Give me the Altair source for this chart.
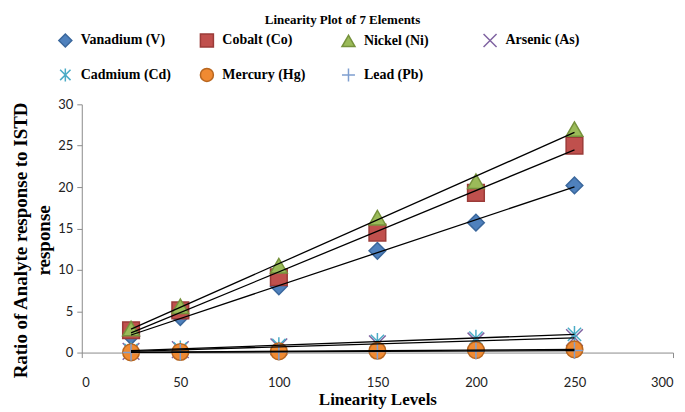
import altair as alt
import pandas as pd

levels = [25, 50, 100, 150, 200, 250]
elements = ["Vanadium (V)", "Cobalt (Co)", "Nickel (Ni)", "Arsenic (As)",
            "Cadmium (Cd)", "Mercury (Hg)", "Lead (Pb)"]

vanadium = [2.0, 4.3, 8.0, 12.3, 15.7, 20.2]
cobalt = [2.7, 5.1, 9.1, 14.5, 19.3, 25.0]
nickel = [2.9, 5.6, 10.5, 16.3, 20.7, 27.0]
arsenic = [0.15, 0.35, 0.7, 1.05, 1.4, 1.8]
cadmium = [0.25, 0.45, 0.85, 1.35, 1.75, 2.2]
mercury = [0.03, 0.07, 0.15, 0.22, 0.3, 0.38]
lead = [0.02, 0.04, 0.09, 0.14, 0.19, 0.24]

series = [vanadium, cobalt, nickel, arsenic, cadmium, mercury, lead]

fill_colors = ["#4F81BD", "#C0504D", "#9BBB59", "#8064A2", "#4BACC6", "#F08A32", "#95B3D7"]
stroke_colors = ["#3A679C", "#9B3B38", "#76923C", "#8064A2", "#4BACC6", "#B8661F", "#7F9FD0"]
shapes = ["diamond", "square", "triangle-up",
          "M-1,-1L1,1M-1,1L1,-1",
          "M0,-1L0,1M-0.8,-0.8L0.8,0.8M-0.8,0.8L0.8,-0.8",
          "circle",
          "M-1,0L1,0M0,-1L0,1"]

rows = []
for name, vals in zip(elements, series):
    for lv, v in zip(levels, vals):
        rows.append({"element": name, "level": lv, "value": v})
df = pd.DataFrame(rows)

serif = "Liberation Serif"
sans = "Lato"

leg = alt.Legend(orient="none", legendX=-24, legendY=-72, columns=4, direction="horizontal",
                 title=None, symbolSize=170, symbolStrokeWidth=1.5,
                 labelFont=serif, labelFontWeight="bold", labelFontSize=14, labelColor="black",
                 gridAlign="all", columnPadding=25, rowPadding=14, labelOffset=8, labelLimit=200)

x_enc = alt.X("level:Q", scale=alt.Scale(domain=[0, 300], nice=False),
              axis=alt.Axis(values=[0, 50, 100, 150, 200, 250, 300], title="Linearity Levels",
                            grid=False, domainColor="#8c8c8c", tickColor="#8c8c8c", tickSize=5,
                            labelFont=sans, labelFontSize=13, labelColor="#222", labelPadding=19,
                            titleFont=serif, titleFontSize=17, titleFontWeight="bold",
                            titleColor="black", titlePadding=2))
y_enc = alt.Y("value:Q", scale=alt.Scale(domain=[0, 30], nice=False),
              axis=alt.Axis(values=[0, 5, 10, 15, 20, 25, 30],
                            title=["Ratio of Analyte response  to ISTD", "response"],
                            grid=False, domainColor="#8c8c8c", tickColor="#8c8c8c", tickSize=5,
                            labelFont=sans, labelFontSize=13, labelColor="#222", labelPadding=4,
                            titleFont=serif, titleFontSize=19, titleFontWeight="bold",
                            titleColor="black", titlePadding=4, titleLineHeight=23, titleY=136))

points = alt.Chart(df).mark_point(filled=True, size=280, strokeWidth=1.5, opacity=1).encode(
    x=x_enc,
    y=y_enc,
    fill=alt.Fill("element:N", scale=alt.Scale(domain=elements, range=fill_colors), legend=leg),
    stroke=alt.Stroke("element:N", scale=alt.Scale(domain=elements, range=stroke_colors), legend=leg),
    shape=alt.Shape("element:N", scale=alt.Scale(domain=elements, range=shapes), legend=leg),
)

lines = alt.Chart(df).transform_regression(
    "level", "value", groupby=["element"]
).mark_line(color="black", strokeWidth=1.3).encode(
    x="level:Q", y="value:Q", detail="element:N"
)

chart = alt.layer(points, lines).properties(
    width=593, height=249,
    autosize=alt.AutoSizeParams(type="none"),
    padding={"left": 74, "top": 96, "right": 4, "bottom": 58},
    title=alt.TitleParams("Linearity Plot of 7 Elements", font=serif, fontSize=13,
                          fontWeight="bold", color="black", anchor="middle", dx=-35, offset=6),
).configure_view(stroke=None)

chart.save("out.html", embed_options={"renderer": "svg", "actions": False})
